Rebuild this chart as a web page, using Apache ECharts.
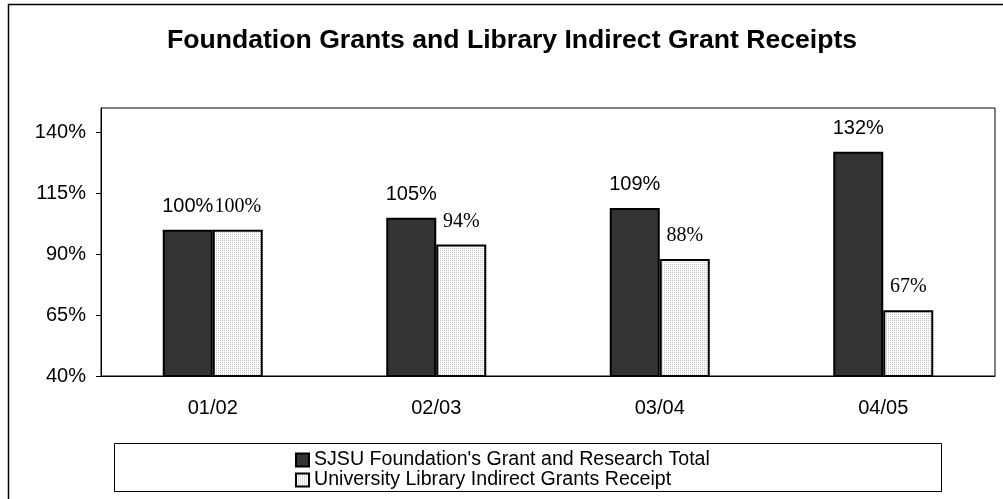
<!DOCTYPE html>
<html>
<head>
<meta charset="utf-8">
<script src="https://cdn.jsdelivr.net/npm/echarts@6/dist/echarts.min.js"></script>
<style>
  html, body { margin: 0; padding: 0; background: #fff; }
  #chart { width: 1003px; height: 499px; }
</style>
</head>
<body>
<div id="chart"></div>
<script>
var categories = ['01/02', '02/03', '03/04', '04/05']
var foundationTotals = [100, 105, 109, 132]
var libraryReceipts = [100, 94, 88, 67]
var yTickValues = [40, 65, 90, 115, 140]
var seriesNames = ["SJSU Foundation's Grant and Research Total", 'University Library Indirect Grants Receipt']

// dotted fill used by the light bars
var dots = document.createElement('canvas')
dots.width = 2
dots.height = 2
var dctx = dots.getContext('2d')
dctx.fillStyle = '#ffffff'
dctx.fillRect(0, 0, 2, 2)
dctx.fillStyle = '#c4c4c4'
dctx.fillRect(0, 0, 1, 1)

var sans = 'Liberation Sans'
var serif = 'Liberation Serif'

var chart = echarts.init(document.getElementById('chart'))
chart.setOption({
    animation: false,
    title: {
        text: 'Foundation Grants and Library Indirect Grant Receipts',
        left: 167,
        top: 27,
        padding: 0,
        textStyle: { fontFamily: sans, fontSize: 26.6, fontWeight: 'bold', color: '#000' }
    },
    graphic: [
        { type: 'rect', shape: { x: 8.5, y: 4.5, width: 1010, height: 510 }, style: { fill: null, stroke: '#000', lineWidth: 1.5 }, z: 0 },
        { type: 'rect', shape: { x: 114.5, y: 443.5, width: 827, height: 48 }, style: { fill: '#fff', stroke: '#000', lineWidth: 1 }, z: 1 }
    ],
    legend: {
        orient: 'vertical',
        left: 295,
        top: 450,
        padding: 0,
        itemWidth: 13,
        itemHeight: 13,
        itemGap: 0,
        icon: 'rect',
        z: 5,
        textStyle: { fontFamily: sans, fontSize: 19.6, lineHeight: 19, color: '#000' },
        data: seriesNames
    },
    grid: {
        left: 101,
        top: 108,
        right: 8,
        bottom: 123,
        show: true,
        borderColor: '#000',
        borderWidth: 1
    },
    xAxis: {
        type: 'category',
        data: categories,
        axisLine: { lineStyle: { color: '#000', width: 1 } },
        axisTick: { length: 5, lineStyle: { color: '#000' } },
        axisLabel: { fontFamily: sans, fontSize: 20, color: '#000', margin: 22 }
    },
    yAxis: {
        type: 'value',
        min: 40,
        max: 150,
        interval: 25,
        splitLine: { show: false },
        axisLine: { show: true, lineStyle: { color: '#000' } },
        axisTick: { show: true, length: 5, customValues: yTickValues, lineStyle: { color: '#000' } },
        axisLabel: {
            customValues: yTickValues,
            fontFamily: sans, fontSize: 20, color: '#000', margin: 15,
            formatter: '{value}%'
        }
    },
    series: [{
        name: seriesNames[0],
        type: 'bar',
        data: foundationTotals,
        barWidth: 50,
        barGap: '0%',
        itemStyle: { color: '#333333', borderColor: '#000', borderWidth: 2 },
        label: {
            show: true, position: 'top', distance: 13,
            formatter: '{c}%',
            fontFamily: sans, fontSize: 20, color: '#000'
        }
    }, {
        name: seriesNames[1],
        type: 'bar',
        data: libraryReceipts,
        barWidth: 50,
        barGap: '0%',
        itemStyle: { color: { image: dots, repeat: 'repeat' }, borderColor: '#000', borderWidth: 2 },
        label: {
            show: true, position: 'top', distance: 13,
            formatter: '{c}%',
            fontFamily: serif, fontSize: 20, color: '#000'
        }
    }]
})
</script>
</body>
</html>
